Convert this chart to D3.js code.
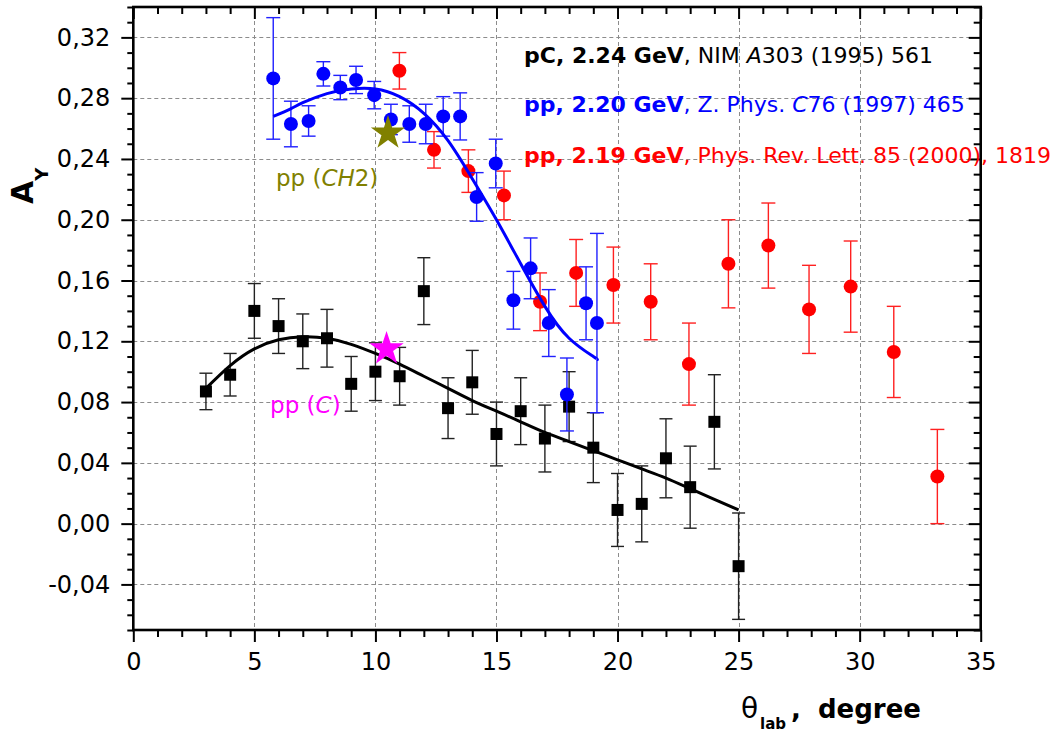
<!DOCTYPE html>
<html>
<head>
<meta charset="utf-8">
<script src="https://cdn.jsdelivr.net/npm/d3@7"></script>
<style>
  body { margin: 0; background: #fff; }
  svg { display: block; }
</style>
</head>
<body>
<svg id="chart" width="1061" height="734"></svg>
<script>
// pC, 2.24 GeV (NIM A303 (1995) 561)
const pcTheta = [3, 4, 5, 6, 7, 8, 9, 10, 11, 12, 13, 14, 15, 16, 17, 18, 19, 20, 21, 22, 23, 24, 25];
const pcAy    = [0.087, 0.098, 0.140, 0.130, 0.120, 0.122, 0.092, 0.100, 0.097, 0.153, 0.076, 0.093,
                 0.059, 0.074, 0.056, 0.077, 0.050, 0.009, 0.013, 0.043, 0.024, 0.067, -0.028];
const pcErr   = [0.012, 0.014, 0.018, 0.018, 0.018, 0.019, 0.018, 0.019, 0.019, 0.022, 0.020, 0.021,
                 0.021, 0.022, 0.022, 0.023, 0.023, 0.024, 0.025, 0.026, 0.027, 0.031, 0.035];

// pp, 2.20 GeV (Z. Phys. C76 (1997) 465)
const ppZTheta = [5.78, 6.51, 7.24, 7.85, 8.55, 9.20, 9.95, 10.64, 11.40, 12.08, 12.80, 13.50,
                  14.18, 14.97, 15.70, 16.41, 17.16, 17.91, 18.70, 19.15];
const ppZAy    = [0.293, 0.263, 0.265, 0.296, 0.287, 0.292, 0.282, 0.266, 0.263, 0.263, 0.268, 0.268,
                  0.215, 0.237, 0.147, 0.168, 0.132, 0.085, 0.145, 0.132];
const ppZErr   = [0.040, 0.015, 0.010, 0.008, 0.008, 0.009, 0.009, 0.010, 0.012, 0.013, 0.013, 0.0155,
                  0.016, 0.016, 0.019, 0.020, 0.022, 0.024, 0.024, 0.059];

// pp, 2.19 GeV (Phys. Rev. Lett. 85 (2000), 1819)
const ppPTheta = [10.99, 12.42, 13.84, 15.31, 16.80, 18.29, 19.83, 21.37, 22.95, 24.58, 26.23, 27.91,
                  29.63, 31.41, 33.21];
const ppPAy    = [0.298, 0.246, 0.232, 0.216, 0.146, 0.165, 0.157, 0.146, 0.105, 0.171, 0.183, 0.141,
                  0.156, 0.113, 0.031];
const ppPErr   = [0.012, 0.012, 0.014, 0.016, 0.019, 0.022, 0.025, 0.025, 0.027, 0.029, 0.028, 0.029,
                  0.030, 0.030, 0.031];

// fitted curves
const pcFitTheta = [3, 4, 5, 6, 7, 8, 9, 10, 11, 12, 13, 14, 15, 16, 17, 18, 19, 20, 21, 22, 23, 24, 25];
const pcFitAy    = [0.089, 0.104, 0.115, 0.121, 0.123, 0.122, 0.118, 0.112, 0.105, 0.097, 0.089, 0.081,
                    0.074, 0.067, 0.060, 0.054, 0.048, 0.042, 0.036, 0.030, 0.023, 0.016, 0.009];
const ppFitTheta = [5.78, 6.5, 7, 8, 9, 10, 11, 12, 13, 14, 15, 16, 17, 18, 19, 19.15];
const ppFitAy    = [0.268, 0.273, 0.277, 0.283, 0.286, 0.286, 0.281, 0.270, 0.252, 0.227, 0.200, 0.171,
                    0.143, 0.122, 0.110, 0.108];

// single-point measurements (stars)
const starTheta  = [10.52, 10.46];
const starAy     = [0.257, 0.115];
const starColor  = ["#808000", "#ff00ff"];

// axis ticks
const xMajorTicks = [0, 5, 10, 15, 20, 25, 30, 35];
const yMajorTicks = [-0.04, 0.00, 0.04, 0.08, 0.12, 0.16, 0.20, 0.24, 0.28, 0.32];

const FONT = "'DejaVu Sans', Verdana, sans-serif";
const svg = d3.select("#chart");
const m = { l: 133.3, r: 980.7, t: 7, b: 630 };

const x = d3.scaleLinear().domain([0, 35]).range([m.l, m.r]);
const y = d3.scaleLinear().domain([-0.07, 0.34]).range([m.b, m.t]);

const xMinorTicks = d3.range(0, 36, 1).filter(v => v % 5 !== 0);
const yMinorTicks = d3.range(-7, 35).map(v => v / 100)
  .filter(v => !yMajorTicks.some(t => Math.abs(t - v) < 1e-9));

const loc = d3.formatLocale({ decimal: ",", thousands: ".", grouping: [3], currency: ["", ""], minus: "-" });
const fmtY = loc.format(".2f");

svg.append("rect").attr("width", 1061).attr("height", 734).attr("fill", "#fff");

// dashed grid
const grid = svg.append("g").attr("stroke", "#8c8c8c").attr("stroke-width", 1).attr("stroke-dasharray", "4,3");
grid.selectAll("line.v").data(xMajorTicks.filter(v => v > 0 && v < 35)).join("line")
  .attr("x1", d => Math.round(x(d)) + 0.5).attr("x2", d => Math.round(x(d)) + 0.5)
  .attr("y1", m.t).attr("y2", m.b);
grid.selectAll("line.h").data(yMajorTicks).join("line")
  .attr("y1", d => Math.round(y(d)) + 0.5).attr("y2", d => Math.round(y(d)) + 0.5)
  .attr("x1", m.l).attr("x2", m.r);

// axes
function styleAxis(g, withText) {
  g.select(".domain").remove();
  g.selectAll(".tick line").attr("stroke", "#000").attr("stroke-width", 2);
  if (withText) g.selectAll(".tick text").attr("font-family", FONT).attr("font-size", 24).attr("fill", "#000");
  else g.selectAll(".tick text").remove();
}
svg.append("g").attr("transform", `translate(0,${m.b})`)
  .call(d3.axisBottom(x).tickValues(xMajorTicks).tickSize(12).tickPadding(11).tickFormat(d3.format("d")))
  .call(g => styleAxis(g, true));
svg.append("g").attr("transform", `translate(0,${m.b})`)
  .call(d3.axisBottom(x).tickValues(xMinorTicks).tickSize(7))
  .call(g => styleAxis(g, false));
svg.append("g").attr("transform", `translate(${m.l},0)`)
  .call(d3.axisLeft(y).tickValues(yMajorTicks).tickSize(12).tickPadding(11).tickFormat(fmtY))
  .call(g => styleAxis(g, true));
svg.append("g").attr("transform", `translate(${m.l},0)`)
  .call(d3.axisLeft(y).tickValues(yMinorTicks).tickSize(6))
  .call(g => styleAxis(g, false));
svg.append("g").attr("transform", `translate(0,${m.t})`)
  .call(d3.axisTop(x).tickValues(xMajorTicks).tickSize(-12))
  .call(g => styleAxis(g, false));
svg.append("g").attr("transform", `translate(0,${m.t})`)
  .call(d3.axisTop(x).tickValues(xMinorTicks).tickSize(-7))
  .call(g => styleAxis(g, false));
svg.append("g").attr("transform", `translate(${m.r},0)`)
  .call(d3.axisRight(y).tickValues(yMajorTicks).tickSize(-12))
  .call(g => styleAxis(g, false));
svg.append("g").attr("transform", `translate(${m.r},0)`)
  .call(d3.axisRight(y).tickValues(yMinorTicks).tickSize(-7))
  .call(g => styleAxis(g, false));

// error bars
function errorBars(xs, ys, es, color, capW) {
  const g = svg.append("g").attr("stroke", color).attr("stroke-width", 1.4).attr("fill", "none");
  const d = xs.map((t, i) => ({ t, v: ys[i], e: es[i] }));
  g.selectAll("line.s").data(d).join("line")
    .attr("x1", p => x(p.t)).attr("x2", p => x(p.t))
    .attr("y1", p => y(p.v + p.e)).attr("y2", p => y(p.v - p.e));
  g.selectAll("line.top").data(d).join("line")
    .attr("x1", p => x(p.t) - capW / 2).attr("x2", p => x(p.t) + capW / 2)
    .attr("y1", p => y(p.v + p.e)).attr("y2", p => y(p.v + p.e));
  g.selectAll("line.bot").data(d).join("line")
    .attr("x1", p => x(p.t) - capW / 2).attr("x2", p => x(p.t) + capW / 2)
    .attr("y1", p => y(p.v - p.e)).attr("y2", p => y(p.v - p.e));
}

const line = d3.line().x(d => x(d[0])).y(d => y(d[1])).curve(d3.curveNatural);

// pC data
errorBars(pcTheta, pcAy, pcErr, "#222", 13);
svg.append("g").selectAll("rect").data(pcTheta.map((t, i) => [t, pcAy[i]])).join("rect")
  .attr("x", d => x(d[0]) - 6).attr("y", d => y(d[1]) - 6)
  .attr("width", 12).attr("height", 12).attr("fill", "#000");
svg.append("path").datum(d3.zip(pcFitTheta, pcFitAy)).attr("d", line)
  .attr("fill", "none").attr("stroke", "#000").attr("stroke-width", 3);

// pp 2.19 GeV
errorBars(ppPTheta, ppPAy, ppPErr, "#ff2020", 14);
svg.append("g").selectAll("circle").data(ppPTheta.map((t, i) => [t, ppPAy[i]])).join("circle")
  .attr("cx", d => x(d[0])).attr("cy", d => y(d[1])).attr("r", 7).attr("fill", "#ff0000");

// pp 2.20 GeV
errorBars(ppZTheta, ppZAy, ppZErr, "#2020ff", 14);
svg.append("g").selectAll("circle").data(ppZTheta.map((t, i) => [t, ppZAy[i]])).join("circle")
  .attr("cx", d => x(d[0])).attr("cy", d => y(d[1])).attr("r", 7).attr("fill", "#0000ff");
svg.append("path").datum(d3.zip(ppFitTheta, ppFitAy)).attr("d", line)
  .attr("fill", "none").attr("stroke", "#0000ff").attr("stroke-width", 3);

// stars
const star = d3.symbol().type(d3.symbolStar).size(364);
svg.append("g").selectAll("path").data(starTheta.map((t, i) => [t, starAy[i], starColor[i]])).join("path")
  .attr("d", star).attr("transform", d => `translate(${x(d[0])},${y(d[1])})`).attr("fill", d => d[2]);

// star labels
const lab1 = svg.append("text").attr("x", x(5.89)).attr("y", y(0.222))
  .attr("font-family", FONT).attr("font-size", 23).attr("fill", "#808000");
lab1.append("tspan").text("pp (");
lab1.append("tspan").attr("font-style", "italic").text("CH");
lab1.append("tspan").text("2)");
const lab2 = svg.append("text").attr("x", x(5.65)).attr("y", y(0.0729))
  .attr("font-family", FONT).attr("font-size", 23).attr("fill", "#ff00ff");
lab2.append("tspan").text("pp (");
lab2.append("tspan").attr("font-style", "italic").text("C");
lab2.append("tspan").text(")");

// references
const refs = [
  { bold: "pC, 2.24 GeV", parts: [[", NIM ", false], ["A", true], ["303 (1995) 561", false]], color: "#000", yb: 63 },
  { bold: "pp, 2.20 GeV", parts: [[", Z. Phys. ", false], ["C", true], ["76 (1997) 465", false]], color: "#0000ff", yb: 112 },
  { bold: "pp, 2.19 GeV", parts: [[", Phys. Rev. Lett. 85 (2000), 1819", false]], color: "#ff0000", yb: 163 }
];
refs.forEach(r => {
  const t = svg.append("text").attr("x", 524).attr("y", r.yb)
    .attr("font-family", FONT).attr("font-size", 22).attr("fill", r.color);
  t.append("tspan").attr("font-weight", "bold").text(r.bold);
  r.parts.forEach(p => t.append("tspan").attr("font-style", p[1] ? "italic" : "normal").text(p[0]));
});

// frame
svg.append("rect").attr("x", m.l).attr("y", m.t).attr("width", m.r - m.l).attr("height", m.b - m.t)
  .attr("fill", "none").attr("stroke", "#000").attr("stroke-width", 2.6);

// axis titles
const yt = svg.append("text").attr("transform", "translate(33,204) rotate(-90)")
  .attr("font-family", FONT).attr("font-weight", "bold").attr("fill", "#000");
yt.append("tspan").attr("font-size", 30).text("A");
yt.append("tspan").attr("font-size", 18).attr("dy", 15).text("Y");

const xt = svg.append("text").attr("y", 718).attr("font-family", FONT).attr("fill", "#000");
xt.append("tspan").attr("x", 741).attr("font-size", 28).text("θ");
xt.append("tspan").attr("x", 760).attr("dy", 11).attr("font-size", 15).attr("font-weight", "bold").text("lab");
xt.append("tspan").attr("x", 791).attr("dy", -11).attr("font-size", 26).attr("font-weight", "bold").text(",");
xt.append("tspan").attr("x", 818).attr("font-size", 26).attr("font-weight", "bold").text("degree");
</script>
</body>
</html>
